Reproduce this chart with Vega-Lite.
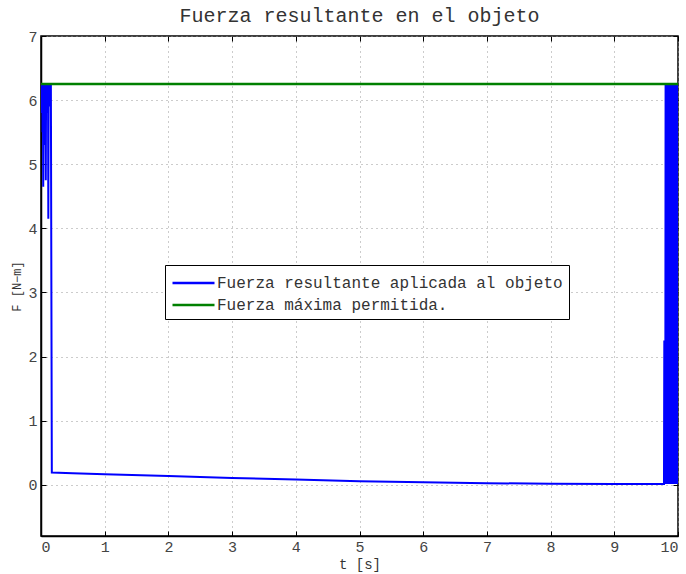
{
  "$schema": "https://vega.github.io/schema/vega-lite/v6.json",
  "width": 637,
  "height": 500,
  "autosize": "none",
  "padding": {"left": 41, "top": 36, "right": 8, "bottom": 38},
  "background": "white",
  "title": {"text": "Fuerza resultante en el objeto", "font": "Liberation Mono", "fontSize": 20, "fontWeight": "normal", "color": "#333333", "offset": 3},
  "datasets": {
    "fuerza": [
      {"t": 0.0, "F": 6.25, "s": "Fuerza resultante aplicada al objeto"},
      {"t": 0.005, "F": 6.0, "s": "Fuerza resultante aplicada al objeto"},
      {"t": 0.01, "F": 6.25, "s": "Fuerza resultante aplicada al objeto"},
      {"t": 0.015, "F": 5.8, "s": "Fuerza resultante aplicada al objeto"},
      {"t": 0.02, "F": 6.25, "s": "Fuerza resultante aplicada al objeto"},
      {"t": 0.025, "F": 5.5, "s": "Fuerza resultante aplicada al objeto"},
      {"t": 0.03, "F": 6.25, "s": "Fuerza resultante aplicada al objeto"},
      {"t": 0.035, "F": 4.65, "s": "Fuerza resultante aplicada al objeto"},
      {"t": 0.04, "F": 6.25, "s": "Fuerza resultante aplicada al objeto"},
      {"t": 0.045, "F": 5.9, "s": "Fuerza resultante aplicada al objeto"},
      {"t": 0.05, "F": 6.25, "s": "Fuerza resultante aplicada al objeto"},
      {"t": 0.055, "F": 5.3, "s": "Fuerza resultante aplicada al objeto"},
      {"t": 0.06, "F": 6.25, "s": "Fuerza resultante aplicada al objeto"},
      {"t": 0.065, "F": 6.1, "s": "Fuerza resultante aplicada al objeto"},
      {"t": 0.07, "F": 6.25, "s": "Fuerza resultante aplicada al objeto"},
      {"t": 0.075, "F": 4.75, "s": "Fuerza resultante aplicada al objeto"},
      {"t": 0.08, "F": 6.25, "s": "Fuerza resultante aplicada al objeto"},
      {"t": 0.085, "F": 5.8, "s": "Fuerza resultante aplicada al objeto"},
      {"t": 0.09, "F": 6.25, "s": "Fuerza resultante aplicada al objeto"},
      {"t": 0.095, "F": 5.9, "s": "Fuerza resultante aplicada al objeto"},
      {"t": 0.1, "F": 6.25, "s": "Fuerza resultante aplicada al objeto"},
      {"t": 0.105, "F": 6.0, "s": "Fuerza resultante aplicada al objeto"},
      {"t": 0.11, "F": 6.25, "s": "Fuerza resultante aplicada al objeto"},
      {"t": 0.115, "F": 4.15, "s": "Fuerza resultante aplicada al objeto"},
      {"t": 0.12, "F": 6.25, "s": "Fuerza resultante aplicada al objeto"},
      {"t": 0.125, "F": 6.0, "s": "Fuerza resultante aplicada al objeto"},
      {"t": 0.13, "F": 6.25, "s": "Fuerza resultante aplicada al objeto"},
      {"t": 0.135, "F": 5.9, "s": "Fuerza resultante aplicada al objeto"},
      {"t": 0.14, "F": 6.25, "s": "Fuerza resultante aplicada al objeto"},
      {"t": 0.145, "F": 6.1, "s": "Fuerza resultante aplicada al objeto"},
      {"t": 0.155, "F": 6.25, "s": "Fuerza resultante aplicada al objeto"},
      {"t": 0.17, "F": 0.19, "s": "Fuerza resultante aplicada al objeto"},
      {"t": 0.5, "F": 0.18, "s": "Fuerza resultante aplicada al objeto"},
      {"t": 1.0, "F": 0.165, "s": "Fuerza resultante aplicada al objeto"},
      {"t": 2.0, "F": 0.135, "s": "Fuerza resultante aplicada al objeto"},
      {"t": 3.0, "F": 0.105, "s": "Fuerza resultante aplicada al objeto"},
      {"t": 4.0, "F": 0.08, "s": "Fuerza resultante aplicada al objeto"},
      {"t": 5.0, "F": 0.055, "s": "Fuerza resultante aplicada al objeto"},
      {"t": 6.0, "F": 0.037, "s": "Fuerza resultante aplicada al objeto"},
      {"t": 7.0, "F": 0.024, "s": "Fuerza resultante aplicada al objeto"},
      {"t": 8.0, "F": 0.015, "s": "Fuerza resultante aplicada al objeto"},
      {"t": 9.0, "F": 0.011, "s": "Fuerza resultante aplicada al objeto"},
      {"t": 9.78, "F": 0.01, "s": "Fuerza resultante aplicada al objeto"},
      {"t": 9.785, "F": 2.25, "s": "Fuerza resultante aplicada al objeto"},
      {"t": 9.79, "F": 0.01, "s": "Fuerza resultante aplicada al objeto"},
      {"t": 9.795, "F": 2.2, "s": "Fuerza resultante aplicada al objeto"},
      {"t": 9.8, "F": 0.01, "s": "Fuerza resultante aplicada al objeto"},
      {"t": 9.805, "F": 6.25, "s": "Fuerza resultante aplicada al objeto"},
      {"t": 9.81, "F": 0.01, "s": "Fuerza resultante aplicada al objeto"},
      {"t": 9.815, "F": 6.25, "s": "Fuerza resultante aplicada al objeto"},
      {"t": 9.82, "F": 0.01, "s": "Fuerza resultante aplicada al objeto"},
      {"t": 9.825, "F": 6.25, "s": "Fuerza resultante aplicada al objeto"},
      {"t": 9.83, "F": 0.01, "s": "Fuerza resultante aplicada al objeto"},
      {"t": 9.835, "F": 6.25, "s": "Fuerza resultante aplicada al objeto"},
      {"t": 9.84, "F": 0.01, "s": "Fuerza resultante aplicada al objeto"},
      {"t": 9.845, "F": 6.25, "s": "Fuerza resultante aplicada al objeto"},
      {"t": 9.85, "F": 0.01, "s": "Fuerza resultante aplicada al objeto"},
      {"t": 9.855, "F": 6.25, "s": "Fuerza resultante aplicada al objeto"},
      {"t": 9.86, "F": 0.01, "s": "Fuerza resultante aplicada al objeto"},
      {"t": 9.865, "F": 6.25, "s": "Fuerza resultante aplicada al objeto"},
      {"t": 9.87, "F": 0.01, "s": "Fuerza resultante aplicada al objeto"},
      {"t": 9.875, "F": 6.25, "s": "Fuerza resultante aplicada al objeto"},
      {"t": 9.88, "F": 0.01, "s": "Fuerza resultante aplicada al objeto"},
      {"t": 9.885, "F": 6.25, "s": "Fuerza resultante aplicada al objeto"},
      {"t": 9.89, "F": 0.01, "s": "Fuerza resultante aplicada al objeto"},
      {"t": 9.895, "F": 6.25, "s": "Fuerza resultante aplicada al objeto"},
      {"t": 9.9, "F": 0.01, "s": "Fuerza resultante aplicada al objeto"},
      {"t": 9.905, "F": 6.25, "s": "Fuerza resultante aplicada al objeto"},
      {"t": 9.91, "F": 0.01, "s": "Fuerza resultante aplicada al objeto"},
      {"t": 9.915, "F": 6.25, "s": "Fuerza resultante aplicada al objeto"},
      {"t": 9.92, "F": 0.01, "s": "Fuerza resultante aplicada al objeto"},
      {"t": 9.925, "F": 6.25, "s": "Fuerza resultante aplicada al objeto"},
      {"t": 9.93, "F": 0.01, "s": "Fuerza resultante aplicada al objeto"},
      {"t": 9.935, "F": 6.25, "s": "Fuerza resultante aplicada al objeto"},
      {"t": 9.94, "F": 0.01, "s": "Fuerza resultante aplicada al objeto"},
      {"t": 9.945, "F": 6.25, "s": "Fuerza resultante aplicada al objeto"},
      {"t": 9.95, "F": 0.01, "s": "Fuerza resultante aplicada al objeto"},
      {"t": 9.955, "F": 6.25, "s": "Fuerza resultante aplicada al objeto"},
      {"t": 9.96, "F": 0.01, "s": "Fuerza resultante aplicada al objeto"},
      {"t": 9.965, "F": 6.25, "s": "Fuerza resultante aplicada al objeto"},
      {"t": 9.97, "F": 0.01, "s": "Fuerza resultante aplicada al objeto"},
      {"t": 9.975, "F": 6.25, "s": "Fuerza resultante aplicada al objeto"},
      {"t": 9.98, "F": 0.01, "s": "Fuerza resultante aplicada al objeto"},
      {"t": 9.985, "F": 6.25, "s": "Fuerza resultante aplicada al objeto"},
      {"t": 9.99, "F": 0.01, "s": "Fuerza resultante aplicada al objeto"},
      {"t": 9.995, "F": 6.25, "s": "Fuerza resultante aplicada al objeto"},
      {"t": 10.0, "F": 0.01, "s": "Fuerza resultante aplicada al objeto"}
    ],
    "maxima": [
      {"t": 0, "F": 6.25, "s": "Fuerza máxima permitida."},
      {"t": 10, "F": 6.25, "s": "Fuerza máxima permitida."}
    ]
  },
  "layer": [
    {
      "data": {"name": "fuerza"},
      "mark": {"type": "line", "strokeWidth": 2, "clip": true},
      "encoding": {
        "x": {"field": "t", "type": "quantitative", "scale": {"domain": [0, 10], "nice": false, "zero": false},
              "axis": {"title": "t  [s]", "values": [0,1,2,3,4,5,6,7,8,9,10], "orient": "bottom"}},
        "y": {"field": "F", "type": "quantitative", "scale": {"domain": [-0.8, 7], "nice": false, "zero": false},
              "axis": {"title": "F  [N−m]", "values": [0,1,2,3,4,5,6,7], "orient": "left"}},
        "color": {"field": "s", "type": "nominal",
                  "scale": {"domain": ["Fuerza resultante aplicada al objeto", "Fuerza máxima permitida."], "range": ["#0000ff", "#008000"]},
                  "legend": {"title": null, "orient": "none", "legendX": 124, "legendY": 229, "symbolType": "M-1,0H3", "symbolSize": 441, "symbolStrokeWidth": 2.5,
                             "labelFont": "Liberation Mono", "labelFontSize": 16, "labelColor": "#333333", "labelLimit": 500, "labelOffset": 22,
                             "strokeColor": "black", "fillColor": "white", "padding": 6, "rowPadding": 2, "offset": 0}}
      }
    },
    {
      "data": {"name": "maxima"},
      "mark": {"type": "line", "strokeWidth": 2.5, "clip": true},
      "encoding": {
        "x": {"field": "t", "type": "quantitative", "scale": {"domain": [0, 10], "nice": false, "zero": false},
              "axis": {"title": null, "values": [0,1,2,3,4,5,6,7,8,9,10], "orient": "top", "labels": false, "grid": false, "domain": false}},
        "y": {"field": "F", "type": "quantitative", "scale": {"domain": [-0.8, 7], "nice": false, "zero": false},
              "axis": {"title": null, "values": [0,1,2,3,4,5,6,7], "orient": "right", "labels": false, "grid": false, "domain": false}},
        "color": {"field": "s", "type": "nominal"}
      }
    }
  ],
  "resolve": {"scale": {"x": "independent", "y": "independent"}},
  "config": {
    "view": {"stroke": "black", "strokeWidth": 1.5},
    "axis": {
      "labelFont": "Liberation Mono", "labelFontSize": 15, "labelColor": "#444444",
      "titleFont": "Liberation Mono", "titleFontWeight": "normal", "titleColor": "#333333",
      "domainColor": "black", "domainWidth": 1.5,
      "tickColor": "black", "tickSize": -5, "tickWidth": 1,
      "gridColor": "#999999", "gridDash": [1, 4], "gridWidth": 1
    },
    "axisX": {"titlePadding": 3, "labelPadding": 8, "titleFontSize": 14},
    "axisY": {"titlePadding": 4, "labelPadding": 9, "titleFontSize": 12}
  }
}
